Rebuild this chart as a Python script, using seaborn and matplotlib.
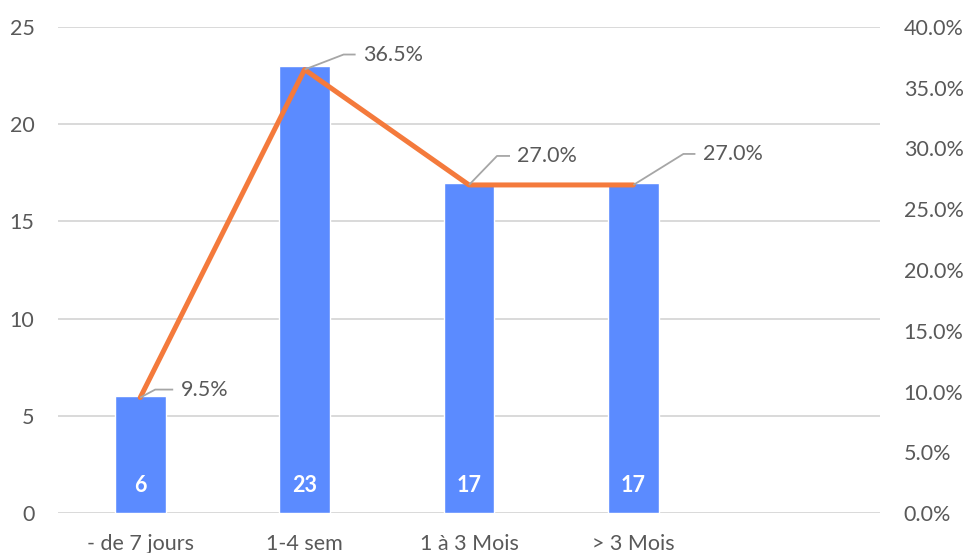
import numpy as np
import pandas as pd
import matplotlib
matplotlib.use("Agg")
import matplotlib.pyplot as plt
import matplotlib.transforms as mtransforms
from matplotlib.ticker import FuncFormatter, MultipleLocator
import seaborn as sns

# Délai avant consultation
categories = ["- de 7 jours", "1-4 sem", "1 à 3 Mois", "> 3 Mois"]
counts = [6, 23, 17, 17]
shares = [0.095, 0.365, 0.270, 0.270]

BAR_COLOR = "#5B8BFF"
LINE_COLOR = "#F47A3C"
TEXT_COLOR = "#595959"
GRID_COLOR = "#D9D9D9"
LEADER_COLOR = "#A6A6A6"
FONT = ["Lato", "DejaVu Sans"]
FS = 15.5

sns.set_theme(style="white")
plt.rcParams["font.family"] = FONT

DPI = 100
fig = plt.figure(figsize=(9.64, 5.53), dpi=DPI)
ax = fig.add_axes([58 / 964, 40 / 553, 822 / 964, 486 / 553])

df = pd.DataFrame({"categorie": categories, "effectif": counts, "part": shares})

sns.barplot(data=df, x="categorie", y="effectif", color=BAR_COLOR,
            width=0.31, saturation=1, ax=ax, zorder=2)
ax.set_xlim(-0.5, 4.5)
ax.set_ylim(0, 25)
ax.yaxis.set_major_locator(MultipleLocator(5))
ax.grid(axis="y", color=GRID_COLOR, linewidth=1.4, zorder=0)
ax.set_axisbelow(True)
ax.set_xlabel("")
ax.set_ylabel("")
for s in ax.spines.values():
    s.set_visible(False)
ax.tick_params(axis="y", length=0, pad=17, labelsize=FS, labelcolor=TEXT_COLOR)
ax.tick_params(axis="x", length=0, pad=15, labelsize=FS, labelcolor=TEXT_COLOR)

# Effectifs inscrits en bas des barres
for i, v in enumerate(counts):
    t = mtransforms.offset_copy(ax.transData, fig=fig, x=0, y=27 / DPI * 72, units="points")
    ax.text(i, 0, str(v), transform=t, ha="center", va="center",
            color="white", fontsize=FS, fontweight="bold", zorder=4)

# Courbe des pourcentages sur l'axe secondaire
ax2 = ax.twinx()
sns.lineplot(x=np.arange(len(shares)), y=shares, color=LINE_COLOR,
             linewidth=3.6, ax=ax2, zorder=3, solid_capstyle="round")
ax2.set_ylim(0, 0.40)
ax2.yaxis.set_major_locator(MultipleLocator(0.05))
ax2.yaxis.set_major_formatter(FuncFormatter(lambda v, _: f"{v * 100:.1f}%"))
ax2.tick_params(axis="y", length=0, pad=17, labelsize=FS, labelcolor=TEXT_COLOR)
ax2.grid(False)
for s in ax2.spines.values():
    s.set_visible(False)

# Étiquettes de pourcentage avec lignes de rappel (décalages en pixels)
leaders = [(15, 8, 33, 41), (39, 15, 51, 59), (28, 29, 41, 48), (50, 31, 62, 70)]
for i, (p, (dx, dy, hx, tx)) in enumerate(zip(shares, leaders)):
    px, py = ax2.transData.transform((i, p))
    inv = ax2.transData.inverted()
    pts = inv.transform([(px, py), (px + dx, py + dy), (px + hx, py + dy)])
    ax2.plot(pts[:, 0], pts[:, 1], color=LEADER_COLOR, linewidth=1.3, zorder=5,
             solid_capstyle="butt")
    lx, ly = inv.transform((px + tx, py + dy))
    ax2.text(lx, ly, f"{p * 100:.1f}%", ha="left", va="center",
             color=TEXT_COLOR, fontsize=FS, zorder=6)

fig.savefig("out.png", dpi=DPI, facecolor="white")
